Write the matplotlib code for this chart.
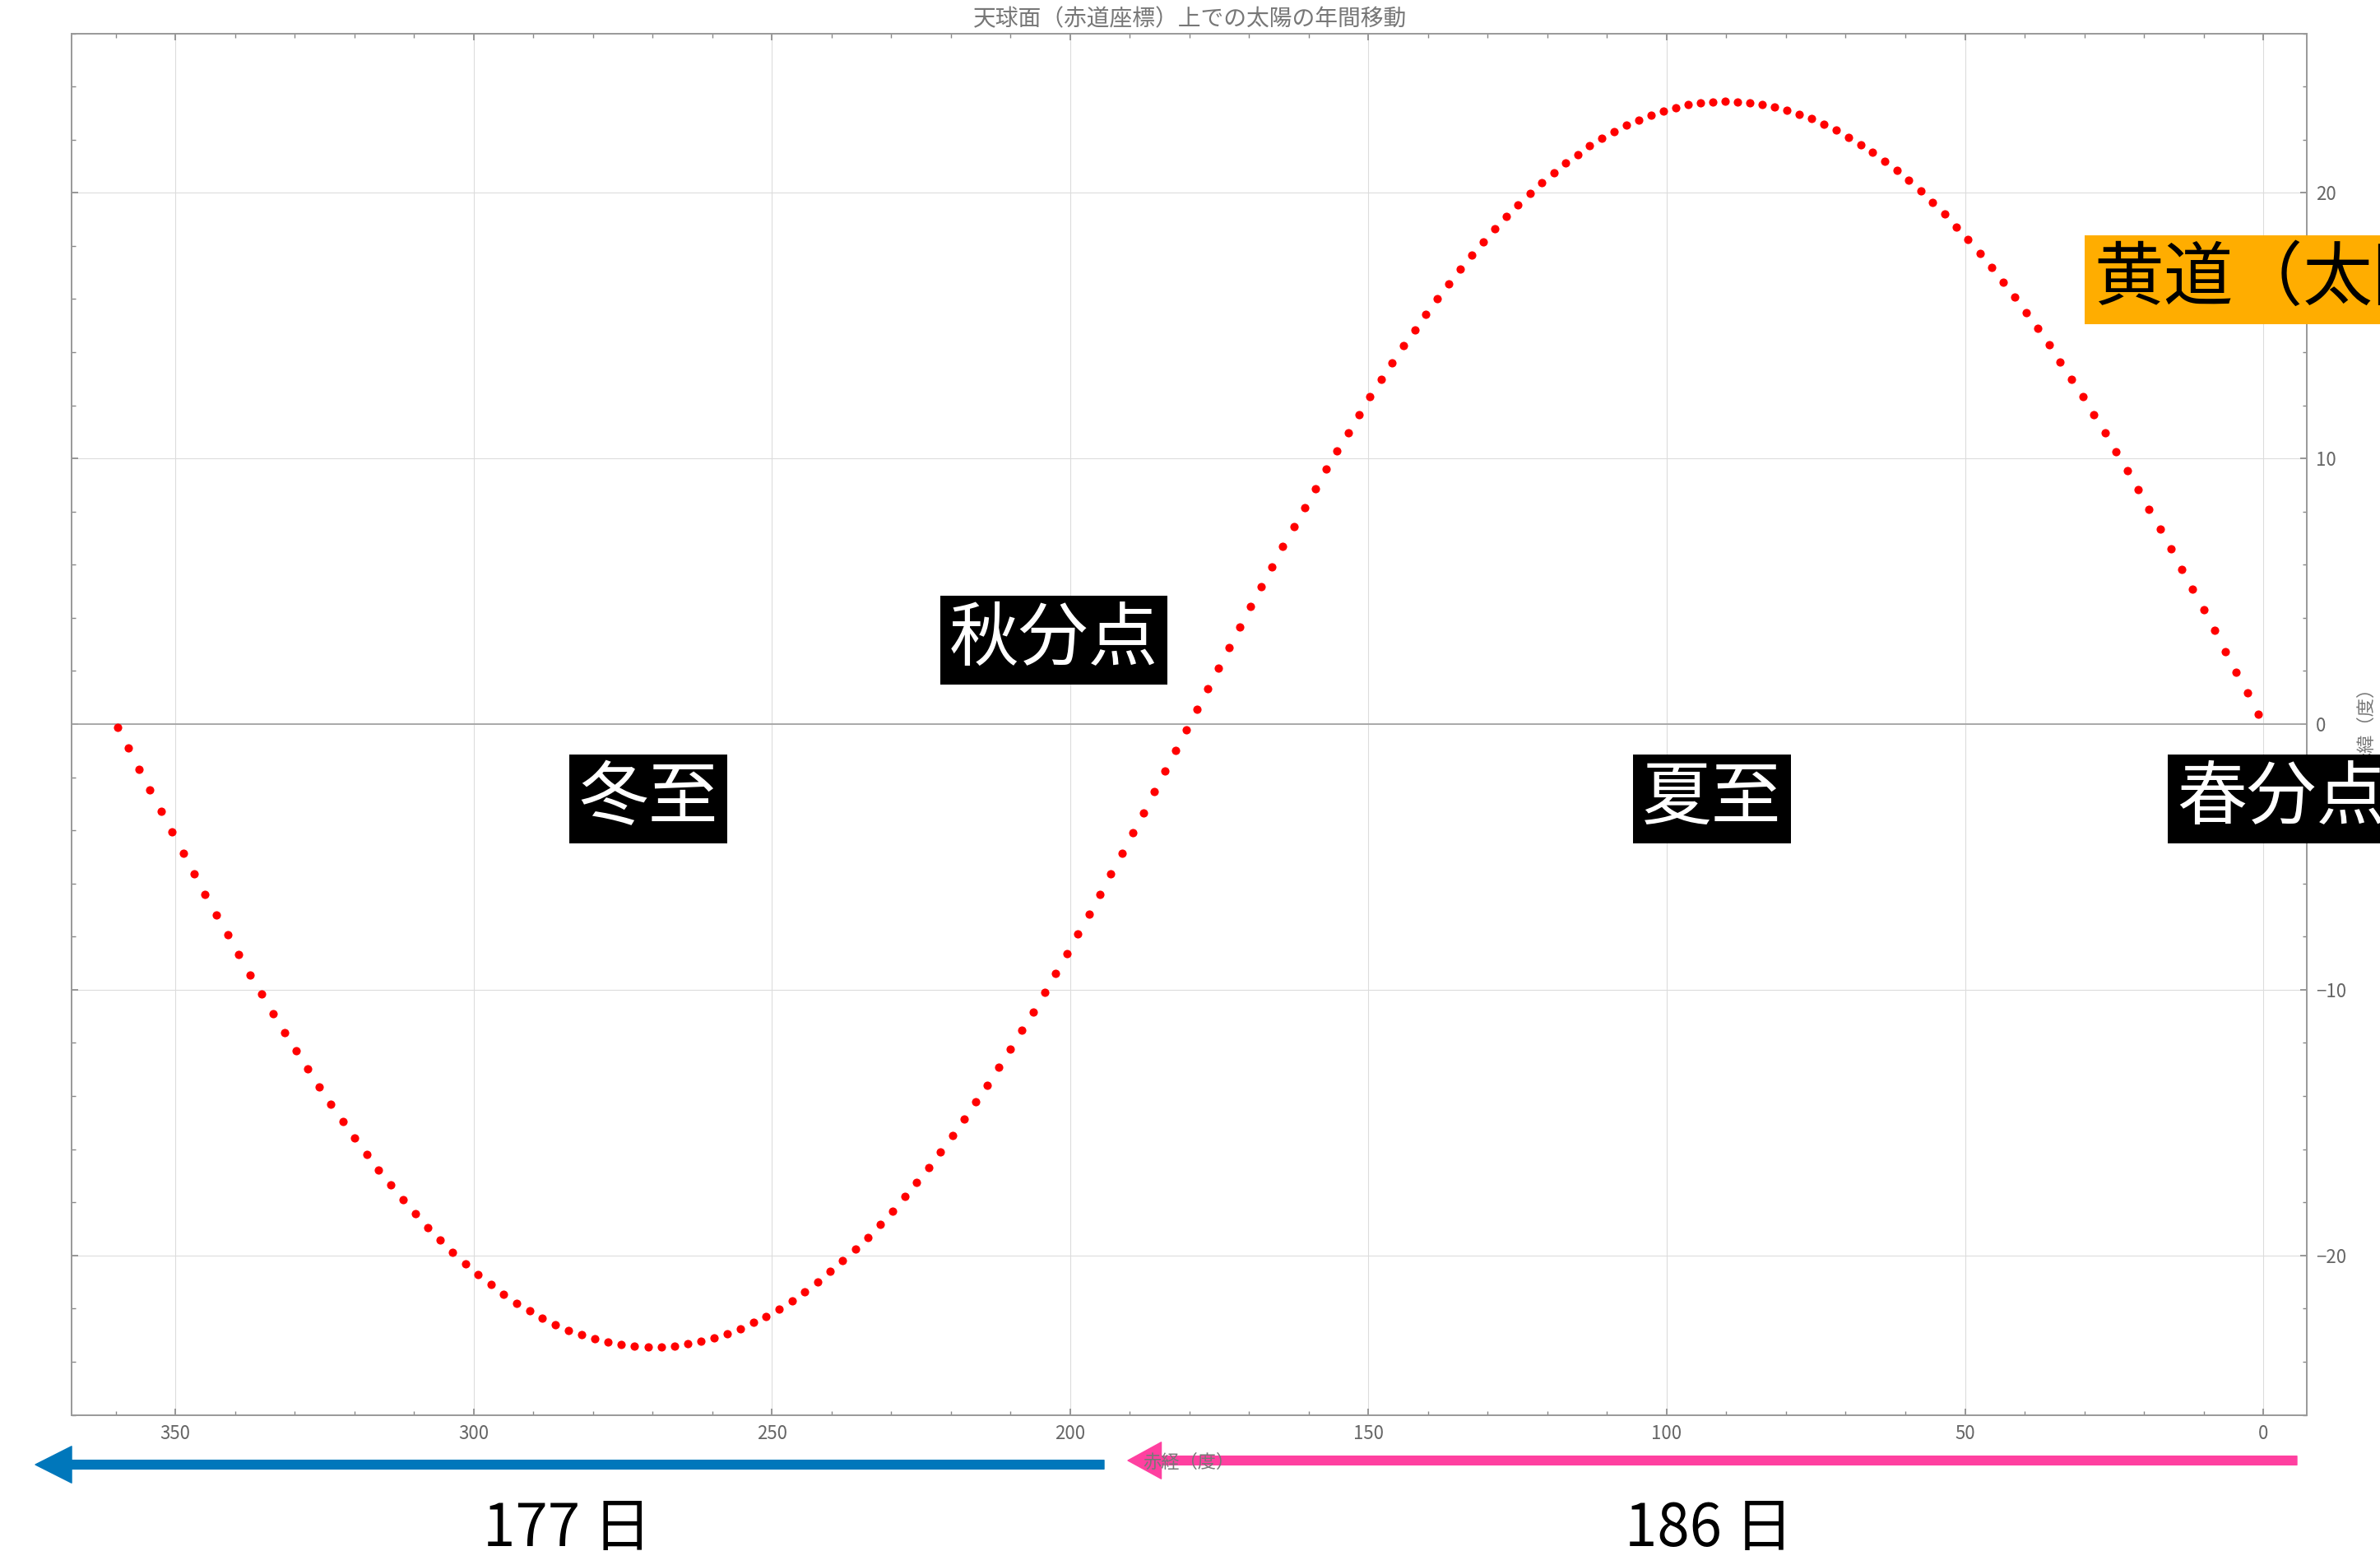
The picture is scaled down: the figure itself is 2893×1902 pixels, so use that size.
import matplotlib
matplotlib.use("Agg")

import matplotlib.pyplot as plt
from matplotlib.patches import FancyArrowPatch

plt.rcParams["font.family"] = ["Noto Sans CJK JP", "DejaVu Sans"]

# sun position, one dot every 2 days from the vernal equinox
ra = [
    0.88, 2.69, 4.51, 6.34, 8.16, 9.99, 11.81, 13.63, 15.46, 17.29,
    19.13, 20.97, 22.81, 24.67, 26.53, 28.40, 30.26, 32.14, 34.03, 35.93,
    37.83, 39.74, 41.66, 43.60, 45.54, 47.49, 49.45, 51.42, 53.40, 55.39,
    57.39, 59.39, 61.40, 63.43, 65.46, 67.50, 69.54, 71.59, 73.65, 75.71,
    77.78, 79.85, 81.92, 84.00, 86.08, 88.16, 90.23, 92.31, 94.39, 96.46,
    98.53, 100.60, 102.66, 104.72, 106.78, 108.82, 110.86, 112.89, 114.92, 116.93,
    118.94, 120.94, 122.93, 124.91, 126.87, 128.83, 130.78, 132.72, 134.65, 136.57,
    138.47, 140.37, 142.26, 144.14, 146.01, 147.87, 149.73, 151.58, 153.42, 155.25,
    157.07, 158.90, 160.71, 162.52, 164.33, 166.13, 167.93, 169.73, 171.52, 173.32,
    175.11, 176.91, 178.70, 180.50, 182.29, 184.09, 185.90, 187.71, 189.53, 191.35,
    193.17, 195.01, 196.85, 198.70, 200.55, 202.41, 204.29, 206.18, 208.08, 209.99,
    211.91, 213.85, 215.79, 217.76, 219.73, 221.71, 223.71, 225.73, 227.76, 229.80,
    231.86, 233.93, 236.02, 238.12, 240.23, 242.35, 244.49, 246.64, 248.80, 250.96,
    253.14, 255.33, 257.52, 259.72, 261.93, 264.14, 266.35, 268.57, 270.79, 273.01,
    275.22, 277.44, 279.65, 281.86, 284.06, 286.26, 288.45, 290.63, 292.80, 294.96,
    297.11, 299.25, 301.38, 303.50, 305.60, 307.69, 309.77, 311.83, 313.88, 315.92,
    317.95, 319.96, 321.95, 323.94, 325.91, 327.87, 329.81, 331.74, 333.67, 335.58,
    337.49, 339.37, 341.26, 343.13, 345.00, 346.86, 348.71, 350.56, 352.40, 354.24,
    356.07, 357.90, 359.72,
]
dec = [
    0.38, 1.17, 1.95, 2.74, 3.52, 4.30, 5.07, 5.83, 6.59, 7.34,
    8.09, 8.82, 9.54, 10.26, 10.96, 11.65, 12.33, 12.99, 13.64, 14.27,
    14.89, 15.49, 16.08, 16.64, 17.19, 17.72, 18.23, 18.72, 19.19, 19.63,
    20.06, 20.46, 20.84, 21.19, 21.52, 21.82, 22.10, 22.36, 22.58, 22.79,
    22.96, 23.11, 23.23, 23.32, 23.39, 23.43, 23.44, 23.42, 23.38, 23.31,
    23.21, 23.08, 22.93, 22.75, 22.54, 22.31, 22.05, 21.76, 21.45, 21.12,
    20.76, 20.38, 19.98, 19.55, 19.10, 18.64, 18.15, 17.65, 17.12, 16.58,
    16.02, 15.44, 14.85, 14.24, 13.61, 12.98, 12.32, 11.66, 10.98, 10.29,
    9.59, 8.87, 8.15, 7.42, 6.68, 5.93, 5.18, 4.42, 3.66, 2.89,
    2.12, 1.34, 0.56, -0.22, -0.99, -1.77, -2.55, -3.33, -4.10, -4.87,
    -5.64, -6.40, -7.16, -7.91, -8.65, -9.39, -10.11, -10.83, -11.53, -12.23,
    -12.91, -13.58, -14.23, -14.87, -15.49, -16.09, -16.68, -17.24, -17.79, -18.32,
    -18.82, -19.31, -19.76, -20.20, -20.61, -21.01, -21.37, -21.70, -22.01, -22.29,
    -22.53, -22.75, -22.94, -23.10, -23.23, -23.33, -23.40, -23.43, -23.44, -23.41,
    -23.35, -23.26, -23.14, -22.99, -22.81, -22.60, -22.36, -22.09, -21.79, -21.46,
    -21.10, -20.72, -20.31, -19.87, -19.42, -18.94, -18.43, -17.89, -17.35, -16.78,
    -16.19, -15.59, -14.96, -14.32, -13.66, -12.99, -12.30, -11.60, -10.89, -10.16,
    -9.43, -8.68, -7.93, -7.17, -6.40, -5.63, -4.85, -4.07, -3.28, -2.49,
    -1.70, -0.91, -0.12,
]

x_ticks = [0, 50, 100, 150, 200, 250, 300, 350]
x_minor = list(range(0, 361, 10))
y_ticks = [-20, -10, 0, 10, 20]
y_minor = list(range(-26, 27, 2))

title = "天球面（赤道座標）上での太陽の年間移動"
xlabel = "赤経（度）"
ylabel = "赤緯（度）"
period_labels = ["177 日", "186 日"]

W, H = 2893, 1902


def fx(px):
    return px / W


def fy(py):
    return 1 - py / H


fig = plt.figure(figsize=(W / 100, H / 100), dpi=100)
ax = fig.add_axes([fx(87), fy(1719.5), fx(2804 - 87), (1719.5 - 40.6) / H])

ax.axhline(0, color="#a4a4a4", lw=1.3, zorder=1)
ax.plot(ra, dec, "o", color="red", ms=7.3, mew=0, zorder=3)

ax.set_xlim(367.4, -7.3)
ax.set_ylim(-26, 26)
ax.set_xticks(x_ticks)
ax.set_xticks(x_minor, minor=True)
ax.set_yticks(y_ticks)
ax.set_yticks(y_minor, minor=True)
ax.grid(True, which="major", color="#dcdcdc", lw=0.8)
ax.set_axisbelow(True)
ax.tick_params(which="both", direction="in", top=True, bottom=True,
               left=True, right=True, labelleft=False, labelright=True,
               color="#888888", labelcolor="#666666", labelsize=16)
ax.tick_params(which="major", length=6, width=1.2, pad=8)
ax.tick_params(which="minor", length=3.6, width=1.0)
for sp in ax.spines.values():
    sp.set_color("#999999")
    sp.set_linewidth(1.4)

fig.text(fx(1447), fy(23), title, ha="center", va="center",
         fontsize=20, color="#777777")
fig.text(fx(2877), fy(880), ylabel, ha="center", va="center",
         rotation=90, fontsize=16, color="#777777")

# arrows under the axis
blue = FancyArrowPatch((fx(1342), fy(1780)), (fx(43), fy(1780)),
                       transform=fig.transFigure, shrinkA=0, shrinkB=0,
                       arrowstyle="simple,head_length=31.7,head_width=32,tail_width=7.7",
                       color="#0077bb", zorder=2)
pink = FancyArrowPatch((fx(2792), fy(1775)), (fx(1371), fy(1775)),
                       transform=fig.transFigure, shrinkA=0, shrinkB=0,
                       arrowstyle="simple,head_length=29.2,head_width=32,tail_width=7.7",
                       color="#ff40a0", zorder=2)
fig.add_artist(blue)
fig.add_artist(pink)
fig.text(fx(1445), fy(1777), xlabel, ha="center", va="center",
         fontsize=16, color="#777777", zorder=4)

box = dict(boxstyle="square,pad=0.13", fc="black", ec="none")
fig.text(fx(1281), fy(778), "秋分点", ha="center", va="center",
         fontsize=61, color="white", bbox=box)
fig.text(fx(788), fy(971), "冬至", ha="center", va="center",
         fontsize=61, color="white", bbox=box)
fig.text(fx(2081), fy(971), "夏至", ha="center", va="center",
         fontsize=61, color="white", bbox=box)
fig.text(fx(2646), fy(971), "春分点", ha="left", va="center",
         fontsize=61, color="white", bbox=box)
fig.text(fx(2545), fy(340), "黄道（太陽の通り道）", ha="left", va="center",
         fontsize=61, color="black",
         bbox=dict(boxstyle="square,pad=0.13", fc="#ffad00", ec="none"))

fig.text(fx(689), fy(1859), period_labels[0], ha="center", va="center",
         fontsize=51, color="black")
fig.text(fx(2077), fy(1859), period_labels[1], ha="center", va="center",
         fontsize=51, color="black")

fig.savefig("out.png", dpi=100)
